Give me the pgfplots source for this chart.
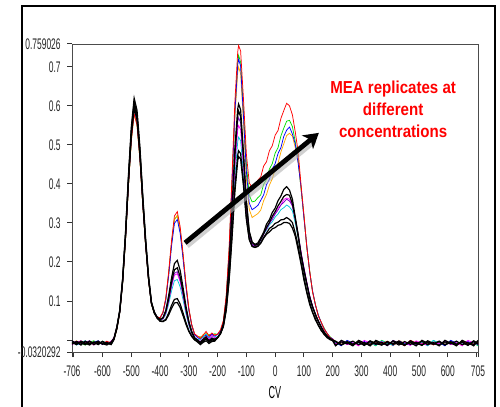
\documentclass[border=0pt]{standalone}
\usepackage{pgfplots}
\pgfplotsset{compat=1.18}
\usepackage{pgfplotstable}
\usepackage{fontspec}
\setmainfont{Liberation Sans}
\newfontfamily\tickfont[FakeStretch=0.55]{Liberation Sans}
\newfontfamily\cvfont[FakeStretch=0.52]{Liberation Sans}
\newfontfamily\redfont[FakeStretch=0.87]{Liberation Sans}
\usetikzlibrary{arrows.meta}

\definecolor{cgreen}{RGB}{0,225,0}
\definecolor{corange}{RGB}{255,170,0}
\definecolor{ccyan}{RGB}{0,200,215}
\definecolor{cpurple}{RGB}{125,0,200}
\definecolor{cmag}{RGB}{255,0,255}

\pgfplotstableread{
x r g b o m c p ka kb kc kd
-706 -0.006 -0.010 -0.003 -0.008 -0.012 -0.004 -0.007 -0.009 -0.002 -0.011 -0.006
-690 -0.011 -0.004 -0.009 -0.002 -0.006 -0.013 -0.003 -0.005 -0.010 -0.004 -0.012
-675 -0.003 -0.008 -0.012 -0.010 -0.002 -0.007 -0.011 -0.013 -0.006 -0.008 -0.003
-660 -0.009 -0.013 -0.005 -0.004 -0.010 -0.002 -0.006 -0.003 -0.012 -0.010 -0.008
-645 -0.004 -0.006 -0.010 -0.012 -0.005 -0.011 -0.002 -0.010 -0.004 -0.003 -0.013
-630 -0.012 -0.002 -0.006 -0.005 -0.013 -0.006 -0.010 -0.006 -0.008 -0.012 -0.005
-615 -0.005 -0.011 -0.002 -0.009 -0.004 -0.010 -0.005 -0.012 -0.003 -0.006 -0.010
-600 -0.010 -0.005 -0.011 -0.003 -0.008 -0.003 -0.012 -0.004 -0.011 -0.009 -0.004
-585 -0.003 -0.009 -0.006 -0.011 -0.011 -0.008 -0.004 -0.010 -0.006 -0.013 -0.009
-570 -0.008 -0.004 -0.010 -0.006 -0.003 -0.012 -0.009 -0.007 -0.012 -0.005 -0.011
-560 0.004 0.002 0.005 0.001 0.006 0.003 0.002 0.005 0.001 0.004 0.003
-550 0.029 0.032 0.030 0.027 0.033 0.030 0.031 0.034 0.030 0.033 0.029
-540 0.071 0.073 0.072 0.070 0.074 0.071 0.073 0.077 0.075 0.074 0.072
-530 0.147 0.148 0.150 0.146 0.151 0.148 0.152 0.158 0.155 0.153 0.150
-520 0.258 0.261 0.263 0.257 0.265 0.261 0.266 0.276 0.272 0.267 0.265
-510 0.393 0.396 0.400 0.392 0.403 0.396 0.404 0.420 0.413 0.406 0.403
-500 0.510 0.514 0.519 0.509 0.523 0.514 0.524 0.545 0.536 0.527 0.523
-490 0.580 0.585 0.590 0.580 0.595 0.585 0.596 0.620 0.610 0.600 0.595
-480 0.551 0.556 0.560 0.551 0.565 0.556 0.566 0.589 0.579 0.570 0.565
-470 0.463 0.467 0.471 0.463 0.475 0.467 0.476 0.495 0.487 0.479 0.475
-460 0.346 0.349 0.352 0.346 0.355 0.349 0.356 0.370 0.364 0.358 0.355
-450 0.241 0.243 0.245 0.241 0.247 0.243 0.248 0.258 0.253 0.249 0.247
-440 0.153 0.154 0.156 0.153 0.157 0.154 0.158 0.164 0.161 0.158 0.157
-430 0.092 0.092 0.093 0.091 0.094 0.092 0.095 0.098 0.096 0.095 0.094
-420 0.070 0.069 0.071 0.068 0.070 0.069 0.071 0.072 0.071 0.070 0.069
-410 0.059 0.059 0.059 0.058 0.058 0.057 0.058 0.058 0.058 0.056 0.056
-400 0.057 0.057 0.057 0.056 0.052 0.051 0.052 0.053 0.052 0.049 0.048
-390 0.071 0.070 0.069 0.070 0.054 0.053 0.055 0.057 0.056 0.048 0.047
-380 0.108 0.105 0.103 0.105 0.069 0.065 0.070 0.076 0.073 0.053 0.051
-370 0.175 0.170 0.165 0.170 0.099 0.092 0.102 0.114 0.106 0.069 0.064
-360 0.255 0.248 0.241 0.248 0.137 0.126 0.140 0.159 0.148 0.089 0.081
-350 0.318 0.309 0.299 0.309 0.166 0.152 0.171 0.196 0.180 0.104 0.095
-340 0.329 0.319 0.309 0.319 0.170 0.155 0.175 0.204 0.185 0.106 0.096
-330 0.290 0.281 0.273 0.281 0.149 0.136 0.154 0.178 0.162 0.092 0.083
-320 0.221 0.215 0.208 0.215 0.113 0.103 0.117 0.134 0.123 0.069 0.062
-310 0.145 0.141 0.136 0.141 0.074 0.067 0.076 0.087 0.080 0.045 0.040
-300 0.082 0.079 0.077 0.079 0.041 0.037 0.042 0.048 0.045 0.024 0.022
-290 0.040 0.039 0.038 0.037 0.018 0.016 0.019 0.022 0.020 0.010 0.009
-280 0.016 0.015 0.014 0.013 0.005 0.004 0.005 0.006 0.005 0.001 0.000
-270 0.010 0.008 0.006 0.009 0.000 0.002 -0.001 0.000 -0.002 -0.003 -0.005
-260 0.004 0.008 0.002 0.006 -0.004 0.000 -0.006 -0.006 -0.010 -0.008 -0.012
-250 0.012 0.006 0.010 0.014 0.004 0.008 0.002 0.002 -0.004 -0.001 -0.006
-240 0.022 0.016 0.012 0.018 0.010 0.016 0.006 0.008 0.004 0.002 -0.002
-230 0.010 0.014 0.006 0.012 0.002 0.006 0.000 -0.002 -0.006 -0.004 -0.009
-220 0.018 0.012 0.015 0.010 0.012 0.008 0.006 0.004 0.000 0.002 -0.004
-210 0.012 0.016 0.010 0.014 0.006 0.010 0.004 0.002 -0.002 0.000 -0.003
-200 0.015 0.014 0.014 0.014 0.006 0.006 0.006 0.006 0.006 0.006 0.006
-190 0.026 0.024 0.023 0.023 0.017 0.016 0.017 0.017 0.017 0.016 0.016
-180 0.050 0.046 0.044 0.044 0.038 0.036 0.039 0.040 0.039 0.035 0.034
-170 0.114 0.110 0.107 0.104 0.086 0.082 0.088 0.093 0.090 0.078 0.076
-160 0.236 0.227 0.222 0.217 0.175 0.166 0.181 0.191 0.186 0.156 0.152
-150 0.417 0.401 0.395 0.386 0.304 0.288 0.315 0.334 0.324 0.268 0.260
-140 0.610 0.587 0.582 0.569 0.445 0.420 0.462 0.491 0.476 0.391 0.379
-130 0.739 0.714 0.706 0.687 0.539 0.509 0.559 0.593 0.575 0.474 0.460
-127 0.755 0.730 0.720 0.700 0.550 0.520 0.570 0.605 0.587 0.485 0.470
-120 0.741 0.712 0.702 0.683 0.539 0.511 0.557 0.590 0.573 0.478 0.464
-110 0.617 0.588 0.573 0.556 0.445 0.426 0.458 0.480 0.469 0.404 0.394
-100 0.477 0.452 0.432 0.414 0.335 0.325 0.341 0.358 0.352 0.314 0.309
-90 0.403 0.371 0.351 0.335 0.267 0.263 0.269 0.279 0.277 0.259 0.257
-80 0.390 0.354 0.334 0.314 0.244 0.243 0.245 0.251 0.250 0.240 0.240
-70 0.394 0.356 0.339 0.319 0.241 0.241 0.241 0.245 0.243 0.238 0.237
-60 0.410 0.365 0.345 0.324 0.245 0.246 0.246 0.249 0.245 0.241 0.240
-50 0.418 0.372 0.358 0.333 0.259 0.256 0.256 0.262 0.258 0.249 0.248
-40 0.446 0.399 0.372 0.357 0.270 0.271 0.273 0.276 0.272 0.263 0.261
-30 0.457 0.412 0.398 0.373 0.289 0.282 0.284 0.297 0.289 0.274 0.271
-20 0.485 0.438 0.412 0.397 0.298 0.295 0.299 0.308 0.301 0.286 0.277
-10 0.498 0.452 0.438 0.413 0.315 0.303 0.309 0.327 0.317 0.291 0.285
0 0.525 0.479 0.452 0.437 0.323 0.315 0.323 0.338 0.329 0.299 0.288
10 0.537 0.493 0.478 0.453 0.339 0.323 0.333 0.357 0.344 0.302 0.294
20 0.568 0.523 0.493 0.482 0.346 0.334 0.346 0.369 0.355 0.308 0.296
30 0.588 0.543 0.522 0.503 0.360 0.339 0.353 0.386 0.368 0.309 0.301
40 0.607 0.561 0.538 0.524 0.364 0.346 0.361 0.393 0.373 0.314 0.301
50 0.600 0.563 0.546 0.530 0.361 0.341 0.356 0.384 0.371 0.309 0.299
60 0.577 0.547 0.528 0.522 0.343 0.331 0.344 0.361 0.349 0.301 0.287
70 0.533 0.508 0.502 0.493 0.311 0.299 0.309 0.314 0.311 0.274 0.266
80 0.482 0.462 0.453 0.457 0.268 0.263 0.271 0.271 0.264 0.241 0.231
90 0.398 0.388 0.392 0.388 0.226 0.219 0.224 0.219 0.219 0.199 0.195
100 0.322 0.317 0.313 0.317 0.184 0.181 0.186 0.181 0.177 0.161 0.154
110 0.238 0.238 0.242 0.239 0.149 0.144 0.147 0.144 0.144 0.124 0.121
120 0.177 0.177 0.174 0.176 0.112 0.111 0.114 0.111 0.107 0.096 0.091
130 0.123 0.124 0.126 0.124 0.088 0.084 0.086 0.084 0.086 0.071 0.071
140 0.091 0.090 0.089 0.091 0.065 0.066 0.067 0.066 0.064 0.055 0.051
150 0.061 0.064 0.064 0.062 0.050 0.048 0.048 0.047 0.049 0.037 0.039
160 0.046 0.044 0.045 0.046 0.033 0.034 0.035 0.034 0.032 0.026 0.024
170 0.028 0.031 0.029 0.029 0.022 0.020 0.021 0.019 0.021 0.014 0.016
180 0.018 0.016 0.018 0.017 0.010 0.011 0.011 0.011 0.009 0.008 0.006
190 0.006 0.009 0.007 0.008 0.005 0.003 0.004 0.003 0.005 0.001 0.002
200 0.002 0.001 0.003 0.001 -0.001 0.000 0.000 0.000 -0.001 -0.001 -0.002
210 -0.004 -0.009 -0.007 -0.006 -0.010 -0.008 -0.014 -0.003 -0.004 -0.013 -0.015
230 -0.011 -0.013 -0.015 -0.014 -0.003 -0.011 -0.002 -0.012 -0.013 -0.005 -0.001
250 -0.006 -0.005 -0.001 -0.002 -0.012 -0.004 -0.009 -0.007 -0.004 -0.010 -0.008
270 -0.014 -0.010 -0.008 -0.009 -0.007 -0.013 -0.013 -0.015 -0.011 -0.003 -0.011
290 -0.002 -0.003 -0.011 -0.013 -0.015 -0.004 -0.005 -0.001 -0.006 -0.012 -0.004
310 -0.009 -0.012 -0.004 -0.005 -0.001 -0.011 -0.010 -0.008 -0.014 -0.007 -0.013
330 -0.013 -0.007 -0.013 -0.010 -0.008 -0.006 -0.003 -0.011 -0.002 -0.015 -0.004
350 -0.005 -0.015 -0.004 -0.003 -0.011 -0.014 -0.012 -0.004 -0.009 -0.001 -0.011
370 -0.010 -0.001 -0.011 -0.012 -0.004 -0.002 -0.007 -0.013 -0.013 -0.008 -0.006
390 -0.003 -0.008 -0.006 -0.007 -0.013 -0.009 -0.015 -0.004 -0.005 -0.011 -0.014
410 -0.012 -0.011 -0.014 -0.015 -0.004 -0.013 -0.001 -0.011 -0.010 -0.004 -0.002
430 -0.007 -0.004 -0.002 -0.001 -0.011 -0.005 -0.008 -0.006 -0.003 -0.013 -0.009
450 -0.015 -0.013 -0.009 -0.008 -0.006 -0.010 -0.011 -0.014 -0.012 -0.004 -0.013
470 -0.001 -0.004 -0.013 -0.011 -0.014 -0.003 -0.004 -0.002 -0.007 -0.011 -0.005
490 -0.008 -0.011 -0.005 -0.004 -0.002 -0.012 -0.013 -0.009 -0.015 -0.006 -0.010
510 -0.011 -0.006 -0.010 -0.013 -0.009 -0.007 -0.004 -0.013 -0.001 -0.014 -0.003
530 -0.004 -0.014 -0.003 -0.004 -0.013 -0.015 -0.011 -0.005 -0.008 -0.002 -0.012
550 -0.013 -0.002 -0.012 -0.011 -0.005 -0.001 -0.006 -0.010 -0.011 -0.009 -0.007
570 -0.004 -0.009 -0.007 -0.006 -0.010 -0.008 -0.014 -0.003 -0.004 -0.013 -0.015
590 -0.011 -0.013 -0.015 -0.014 -0.003 -0.011 -0.002 -0.012 -0.013 -0.005 -0.001
610 -0.006 -0.005 -0.001 -0.002 -0.012 -0.004 -0.009 -0.007 -0.004 -0.010 -0.008
630 -0.014 -0.010 -0.008 -0.009 -0.007 -0.013 -0.013 -0.015 -0.011 -0.003 -0.011
650 -0.002 -0.003 -0.011 -0.013 -0.015 -0.004 -0.005 -0.001 -0.006 -0.012 -0.004
670 -0.009 -0.012 -0.004 -0.005 -0.001 -0.011 -0.010 -0.008 -0.014 -0.007 -0.013
690 -0.013 -0.007 -0.013 -0.010 -0.008 -0.006 -0.003 -0.011 -0.002 -0.015 -0.004
705 -0.005 -0.015 -0.004 -0.003 -0.011 -0.014 -0.012 -0.004 -0.009 -0.001 -0.011
}\data

\begin{document}
\begin{tikzpicture}
\useasboundingbox (0,0) rectangle (375pt,305.25pt);
\fill[white] (0,0) rectangle (375pt,305.25pt);
\draw[line width=1.5pt] (16.5pt,-2pt) -- (16.5pt,300.75pt) -- (371.25pt,300.75pt) -- (371.25pt,-2pt);
\begin{axis}[
  at={(54pt,40.9pt)}, anchor=south west,
  width=304.5pt, height=231.4pt, scale only axis,
  xmin=-706, xmax=705, ymin=-0.0320292, ymax=0.759026,
  axis line style={black!70, line width=0.6pt},
  tick align=outside, xtick pos=bottom, ytick pos=left,
  major tick length=3.5pt,
  tick style={black!80, line width=0.7pt},
  xtick={-706,-700,-600,-500,-400,-300,-200,-100,0,100,200,300,400,500,600,700,705},
  xticklabels={-706,,-600,-500,-400,-300,-200,-100,0,100,200,300,400,500,600,,705},
  ytick={-0.0320292,0,0.1,0.2,0.3,0.4,0.5,0.6,0.7,0.759026},
  yticklabels={-0.0320292,,0.1,0.2,0.3,0.4,0.5,0.6,0.7,0.759026},
  ticklabel style={font=\tickfont\fontsize{11.5}{12}\selectfont, text=black!85},
  xticklabel style={yshift=-3pt},
  yticklabel style={xshift=-1.5pt},
  no markers,
]
\addplot[cgreen, line width=0.55pt] table[x=x,y=g]{\data};
\addplot[corange, line width=0.55pt] table[x=x,y=o]{\data};
\addplot[blue, line width=0.55pt] table[x=x,y=b]{\data};
\addplot[ccyan, line width=0.55pt] table[x=x,y=c]{\data};
\addplot[cmag, line width=0.55pt] table[x=x,y=m]{\data};
\addplot[cpurple, line width=0.55pt] table[x=x,y=p]{\data};
\addplot[red, line width=0.55pt] table[x=x,y=r]{\data};
\addplot[black, line width=0.9pt] table[x=x,y=ka]{\data};
\addplot[black, line width=0.9pt] table[x=x,y=kb]{\data};
\addplot[black, line width=0.9pt] table[x=x,y=kc]{\data};
\addplot[black, line width=0.9pt] table[x=x,y=kd]{\data};
\draw[line width=4pt, black!30, opacity=0.6, shorten >=6pt]
  ([xshift=1.5pt,yshift=-2.2pt]axis cs:-313,0.249) -- ([xshift=1.5pt,yshift=-2.2pt]axis cs:152,0.531);
\draw[line width=3.6pt, -{Stealth[length=11pt,width=13pt,inset=3pt]}]
  (axis cs:-313,0.249) -- (axis cs:152,0.531);
\node[text=red, font=\redfont\bfseries\fontsize{13}{16.5}\selectfont, align=center]
  at (axis cs:410,0.592) {MEA replicates at\\different\\concentrations};
\end{axis}
\node at (206.25pt,10.5pt) {\cvfont\fontsize{13}{14}\selectfont CV};
\end{tikzpicture}
\end{document}
